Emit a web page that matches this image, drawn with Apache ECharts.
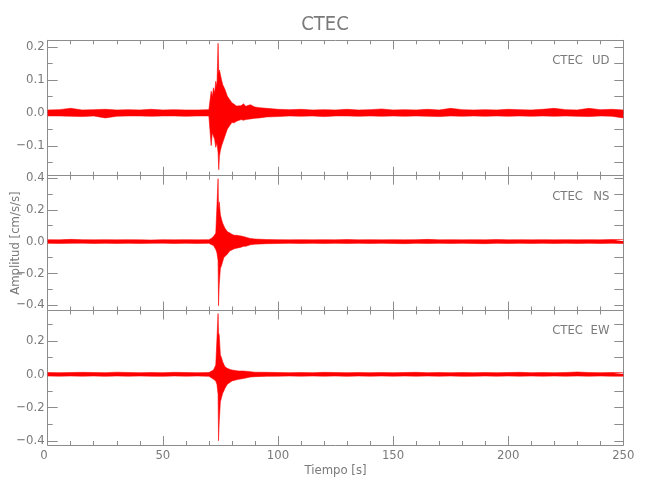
<!DOCTYPE html>
<html>
<head>
<meta charset="utf-8">
<script src="https://cdn.jsdelivr.net/npm/echarts@6/dist/echarts.min.js"></script>
<style>html,body{margin:0;padding:0;background:#fff}#c{width:650px;height:500px}</style>
</head>
<body>
<div id="c"></div>
<script>
// ---------- data (envelopes) ----------
const title = 'CTEC';
const station = 'CTEC';
const channels = ['UD', 'NS', 'EW'];
const xRange = [0, 250];

const tUD = [0,5,10,15,20,25,30,35,40,45,50,55,60,65,70,
  71,71.5,72,72.5,73,73.5,74,74.3,74.6,75,75.5,76,76.5,77,78,79,80,81,82,84,85,86,88,90,92,95,
  100,105,110,115,120,125,130,135,140,145,150,155,160,165,170,175,180,185,190,195,200,205,210,215,220,225,230,235,240,245,250];
const upUD = [.009,.010,.014,.009,.010,.011,.009,.010,.009,.011,.009,.010,.009,.009,.010,
  .066,.05,.076,.06,.096,.08,.211,.12,.13,.126,.10,.086,.08,.071,.051,.041,.031,.026,.021,.022,.028,.02,.025,.018,.016,.014,
  .011,.010,.011,.009,.010,.009,.011,.009,.010,.012,.009,.010,.009,.011,.009,.014,.010,.009,.010,.009,.011,.010,.009,.011,.014,.010,.009,.014,.010,.011,.009];
const loUD = [-.009,-.009,-.010,-.011,-.009,-.015,-.010,-.009,-.009,-.010,-.009,-.009,-.010,-.009,-.009,
  -.099,-.06,-.064,-.08,-.104,-.09,-.12,-.172,-.13,-.114,-.10,-.104,-.08,-.074,-.049,-.039,-.029,-.03,-.025,-.02,-.022,-.02,-.018,-.016,-.015,-.012,
  -.011,-.009,-.010,-.009,-.011,-.009,-.009,-.010,-.009,-.010,-.009,-.010,-.009,-.010,-.011,-.009,-.010,-.009,-.010,-.009,-.010,-.009,-.010,-.009,-.010,-.009,-.010,-.011,-.009,-.010,-.015];

const tNS = [0,5,10,15,20,25,30,35,40,45,50,55,60,65,70,
  71,72,72.5,73,73.5,74,74.2,74.5,75,75.5,76,76.5,77,78,79,80,81,82,84,85,86,88,90,95,
  100,105,110,115,120,125,130,135,140,145,150,155,160,165,170,175,180,185,190,195,200,205,210,215,220,225,230,235,240,245,250];
const upNS = [.012,.011,.014,.012,.011,.012,.011,.012,.011,.010,.012,.011,.012,.011,.012,
  .02,.032,.03,.053,.06,.396,.2,.25,.17,.14,.116,.10,.084,.063,.055,.046,.04,.04,.035,.032,.028,.02,.016,.013,
  .012,.011,.012,.011,.012,.011,.013,.011,.012,.011,.012,.011,.012,.014,.011,.012,.011,.012,.011,.013,.011,.012,.011,.012,.011,.012,.011,.012,.011,.013,.012];
const loNS = [-.011,-.012,-.011,-.010,-.012,-.011,-.012,-.011,-.012,-.011,-.010,-.012,-.011,-.012,-.011,
  -.018,-.025,-.035,-.05,-.07,-.12,-.404,-.27,-.17,-.15,-.126,-.10,-.095,-.08,-.06,-.053,-.045,-.042,-.035,-.03,-.03,-.02,-.016,-.013,
  -.012,-.011,-.012,-.011,-.012,-.011,-.012,-.011,-.012,-.011,-.012,-.013,-.011,-.012,-.011,-.012,-.011,-.012,-.013,-.011,-.012,-.011,-.012,-.011,-.012,-.011,-.012,-.011,-.012,-.011,-.012];

const tEW = [0,5,10,15,20,25,30,35,40,45,50,55,60,65,70,
  71,72,72.5,73,73.5,74,74.2,74.5,75,75.5,76,76.5,77,78,79,80,82,83,85,88,90,95,
  100,105,110,115,120,125,130,135,140,145,150,155,160,165,170,175,180,185,190,195,200,205,210,215,220,225,230,235,240,245,250];
const upEW = [.011,.010,.011,.012,.011,.010,.013,.011,.010,.011,.010,.012,.011,.010,.011,
  .018,.026,.035,.056,.06,.366,.25,.236,.116,.10,.076,.06,.046,.036,.03,.026,.022,.02,.02,.016,.013,.012,
  .011,.010,.011,.010,.012,.011,.010,.011,.010,.011,.010,.011,.012,.010,.011,.010,.011,.010,.011,.010,.011,.012,.010,.011,.010,.011,.014,.011,.010,.011,.010];
const loEW = [-.010,-.011,-.010,-.011,-.010,-.012,-.010,-.011,-.010,-.011,-.012,-.010,-.011,-.010,-.012,
  -.02,-.03,-.035,-.04,-.06,-.12,-.40,-.285,-.165,-.14,-.114,-.10,-.084,-.06,-.05,-.04,-.033,-.03,-.025,-.016,-.014,-.012,
  -.011,-.010,-.011,-.010,-.011,-.010,-.012,-.010,-.011,-.010,-.011,-.010,-.011,-.010,-.011,-.010,-.012,-.011,-.010,-.011,-.010,-.011,-.010,-.011,-.010,-.011,-.010,-.011,-.010,-.011,-.011];

const yRangeUD = [-0.19, 0.22], yRangeNS = [-0.434, 0.415], yRangeEW = [-0.425, 0.384];
const yLabelsUD = [-0.1, 0, 0.1, 0.2];
const yLabelsNS = [-0.4, -0.2, 0, 0.2, 0.4];
const yLabelsEW = [-0.4, -0.2, 0, 0.2];
const yMinorUD = [-0.15, -0.05, 0.05, 0.15];
const yMinorNS = [-0.3, -0.1, 0.1, 0.3];
const yMinorEW = [-0.3, -0.1, 0.1, 0.3];
const yRightUD = [-0.15, -0.1, -0.05, 0, 0.05, 0.1, 0.15, 0.2];
const yRightNS = [-0.4, -0.3, -0.2, -0.1, 0, 0.1, 0.2, 0.3, 0.4];
const yRightEW = [-0.4, -0.3, -0.2, -0.1, 0, 0.1, 0.2, 0.3];
const xName = 'Tiempo [s]';
const yName = 'Amplitud [cm/s/s]';

// ---------- build ----------
const FONT = "'Liberation Sans Narrow', 'DejaVu Sans Condensed', 'Liberation Sans', sans-serif";
const AX = '#8c8c8c', TX = '#7a7a7a', RED = '#ff0000';
const panels = [
  {t: tUD, up: upUD, lo: loUD, r: yRangeUD, lab: yLabelsUD, mi: yMinorUD, rt: yRightUD, top: 40.3, h: 135.4},
  {t: tNS, up: upNS, lo: loNS, r: yRangeNS, lab: yLabelsNS, mi: yMinorNS, rt: yRightNS, top: 175.7, h: 134.8},
  {t: tEW, up: upEW, lo: loEW, r: yRangeEW, lab: yLabelsEW, mi: yMinorEW, rt: yRightEW, top: 310.5, h: 134.5}
];
const fmt = v => (v < -1e-9 ? '\u2212' : '') + Math.abs(v).toFixed(1);

const grid = [], xAxis = [], yAxis = [], series = [], graphic = [];
panels.forEach((p, i) => {
  grid.push({left: 47.7, right: 26.7, top: p.top, height: p.h, containLabel: false, outerBoundsMode: 'none'});
  ['bottom', 'top'].forEach(pos => {
    const showLab = (i === 2 && pos === 'bottom');
    xAxis.push({
      type: 'value', gridIndex: i, position: pos, min: xRange[0], max: xRange[1], interval: 50,
      axisLine: {show: true, onZero: false, lineStyle: {color: AX, width: 1}},
      axisTick: {show: true, inside: true, length: 9, lineStyle: {color: AX}},
      minorTick: {show: true, splitNumber: 5, length: 4, lineStyle: {color: AX}},
      splitLine: {show: false}, minorSplitLine: {show: false},
      axisLabel: {show: showLab, color: TX, fontFamily: FONT, fontSize: 13, margin: 4, alignMinLabel: 'right'},
      name: showLab ? xName : '', nameLocation: 'middle', nameGap: 19,
      nameTextStyle: {color: TX, fontFamily: FONT, fontSize: 13}
    });
  });
  yAxis.push({
    type: 'value', gridIndex: i, position: 'left', min: p.r[0], max: p.r[1],
    axisLine: {show: true, onZero: false, lineStyle: {color: AX}},
    axisTick: {show: true, inside: true, length: 10, customValues: p.lab, lineStyle: {color: AX}},
    axisLabel: {show: true, customValues: p.lab, formatter: fmt, color: TX, fontFamily: FONT, fontSize: 13, margin: 3},
    splitLine: {show: false},
    name: i === 1 ? yName : '', nameLocation: 'middle', nameGap: 26, nameRotate: 90, nameMoveOverlap: false,
    nameTextStyle: {color: TX, fontFamily: FONT, fontSize: 13}
  });
  yAxis.push({
    type: 'value', gridIndex: i, position: 'left', min: p.r[0], max: p.r[1],
    axisLine: {show: false, onZero: false},
    axisTick: {show: true, inside: true, length: 5, customValues: p.mi, lineStyle: {color: AX}},
    axisLabel: {show: false}, splitLine: {show: false}
  });
  yAxis.push({
    type: 'value', gridIndex: i, position: 'right', min: p.r[0], max: p.r[1],
    axisLine: {show: true, onZero: false, lineStyle: {color: AX}},
    axisTick: {show: true, inside: true, length: 9, customValues: p.rt, lineStyle: {color: AX}},
    axisLabel: {show: false}, splitLine: {show: false}
  });
  // upper envelope filled down to zero, lower envelope filled up to (just past) zero
  [[p.up, 0], [p.lo, 0.004]].forEach(([vals, org]) => {
    series.push({
      type: 'line', xAxisIndex: 2 * i, yAxisIndex: 3 * i,
      data: p.t.map((x, k) => [x, vals[k]]),
      symbol: 'none', silent: true, animation: false, sampling: 'none',
      lineStyle: {color: RED, width: 0.8, opacity: 0.7},
      areaStyle: {color: RED, opacity: 1, origin: org},
      z: 3
    });
  });
  const cy = [61, 196.5, 331][i];
  graphic.push({type: 'text', x: 583, y: cy, style: {text: station, fill: TX, font: '13px ' + FONT, textAlign: 'right', textVerticalAlign: 'middle'}});
  graphic.push({type: 'text', x: 609.5, y: cy, style: {text: channels[i], fill: TX, font: '13px ' + FONT, textAlign: 'right', textVerticalAlign: 'middle'}});
});

const chart = echarts.init(document.getElementById('c'), null, {renderer: 'canvas'});
chart.setOption({
  backgroundColor: '#ffffff',
  animation: false,
  title: {text: title, left: 'center', top: 10, textStyle: {color: TX, fontFamily: FONT, fontSize: 20, fontWeight: 'normal'}},
  grid, xAxis, yAxis, series, graphic
});
</script>
</body>
</html>
